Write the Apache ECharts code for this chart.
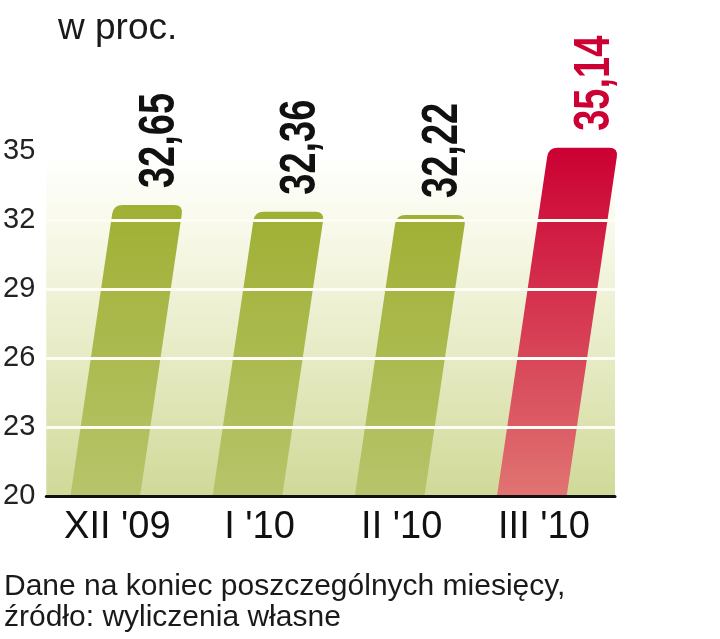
<!DOCTYPE html>
<html>
<head>
<meta charset="utf-8">
<script src="https://cdn.jsdelivr.net/npm/echarts@6/dist/echarts.min.js"></script>
<style>
html,body{margin:0;padding:0;background:#fff;}
#chart{width:720px;height:639px;}
</style>
</head>
<body>
<div id="chart"></div>
<script>
var categories = ["XII '09", "I '10", "II '10", "III '10"];
var values = [32.65, 32.36, 32.22, 35.14];
var yTicks = [20, 23, 26, 29, 32, 35];
var highlightIndex = 3;
var titleText = 'w proc.';
var footerLines = ['Dane na koniec poszczególnych miesięcy,', 'źródło: wyliczenia własne'];

var FONT = '"Liberation Sans Narrow", "Liberation Sans", sans-serif';
var yMin = yTicks[0], yMax = yTicks[yTicks.length - 1];

var chart = echarts.init(document.getElementById('chart'), null, {renderer: 'canvas'});

function fmt(v) { return v.toFixed(2).replace('.', ','); }

var option = {
  animation: false,
  backgroundColor: '#ffffff',
  title: [
    {text: titleText, left: 53, top: 5,
     textStyle: {fontFamily: FONT, fontSize: 37, fontWeight: 'normal', color: '#1a1a1a'}},
    {text: footerLines[0], left: -1, top: 567,
     textStyle: {fontFamily: FONT, fontSize: 30, fontWeight: 'normal', color: '#1a1a1a'}},
    {text: footerLines[1], left: -1, top: 598,
     textStyle: {fontFamily: FONT, fontSize: 30, fontWeight: 'normal', color: '#1a1a1a'}}
  ],
  grid: {
    left: 46, right: 105, top: 151, bottom: 143,
    show: true, borderWidth: 0,
    backgroundColor: {
      type: 'linear', x: 0, y: 0, x2: 0, y2: 1,
      colorStops: [
        {offset: 0, color: '#ffffff'},
        {offset: 0.2, color: '#f9faec'},
        {offset: 0.6, color: '#e6ebc4'},
        {offset: 1, color: '#d0d998'}
      ]
    }
  },
  xAxis: {
    type: 'category',
    data: categories,
    z: 6,
    axisLine: {show: true, lineStyle: {color: '#111', width: 3}},
    axisTick: {show: false},
    axisLabel: {fontFamily: FONT, fontSize: 38, color: '#111', margin: 13}
  },
  yAxis: {
    type: 'value',
    min: yMin, max: yMax, interval: 3,
    z: 5,
    axisLine: {show: false},
    axisTick: {show: false},
    axisLabel: {fontFamily: FONT, fontSize: 29, color: '#222', margin: 11},
    splitLine: {show: true, showMinLine: false, showMaxLine: false,
      lineStyle: {color: '#fdfdf6', width: 3}}
  },
  series: [{
    type: 'custom',
    z: 2,
    data: values.map(function (v, i) { return [i, v]; }),
    renderItem: function (params, api) {
      var i = api.value(0), v = api.value(1);
      var b = api.coord([i, yMin]);
      var t = api.coord([i, v]);
      var band = api.size([1, 0])[0];
      var w = band * 0.49;
      var slope = 0.148;
      var h = b[1] - t[1];
      var dx = slope * h;
      var x0 = b[0] - band * 0.085 - w / 2;
      var r = 9;
      var BL = [x0, b[1]], BR = [x0 + w, b[1]];
      var TR = [x0 + w + dx, t[1]], TL = [x0 + dx, t[1]];
      var path = 'M' + BL[0] + ' ' + BL[1] +
        ' L' + BR[0] + ' ' + BR[1] +
        ' L' + (TR[0] - slope * r) + ' ' + (TR[1] + r) +
        ' Q' + TR[0] + ' ' + TR[1] + ' ' + (TR[0] - r) + ' ' + TR[1] +
        ' L' + (TL[0] + r) + ' ' + TL[1] +
        ' Q' + TL[0] + ' ' + TL[1] + ' ' + (TL[0] - slope * r) + ' ' + (TL[1] + r) +
        ' Z';
      var hi = (i === highlightIndex);
      var fill = {
        type: 'linear', x: 0, y: 0, x2: 0, y2: 1,
        colorStops: hi ?
          [{offset: 0, color: '#cc0033'}, {offset: 1, color: '#e07472'}] :
          [{offset: 0, color: '#a0b034'}, {offset: 1, color: '#b7c46a'}]
      };
      var topCx = x0 + dx + w / 2;
      return {
        type: 'group',
        children: [
          {type: 'path', shape: {pathData: path}, style: {fill: fill}},
          {type: 'text', x: topCx + 12, y: t[1] - 17, rotation: Math.PI / 2,
           scaleX: 0.76, scaleY: 1,
           style: {text: fmt(v), fontFamily: FONT, fontSize: 50, fontWeight: 'bold',
                   fill: hi ? '#cc0033' : '#111', align: 'left', verticalAlign: 'middle'}}
        ]
      };
    }
  }]
};
chart.setOption(option);
</script>
</body>
</html>
